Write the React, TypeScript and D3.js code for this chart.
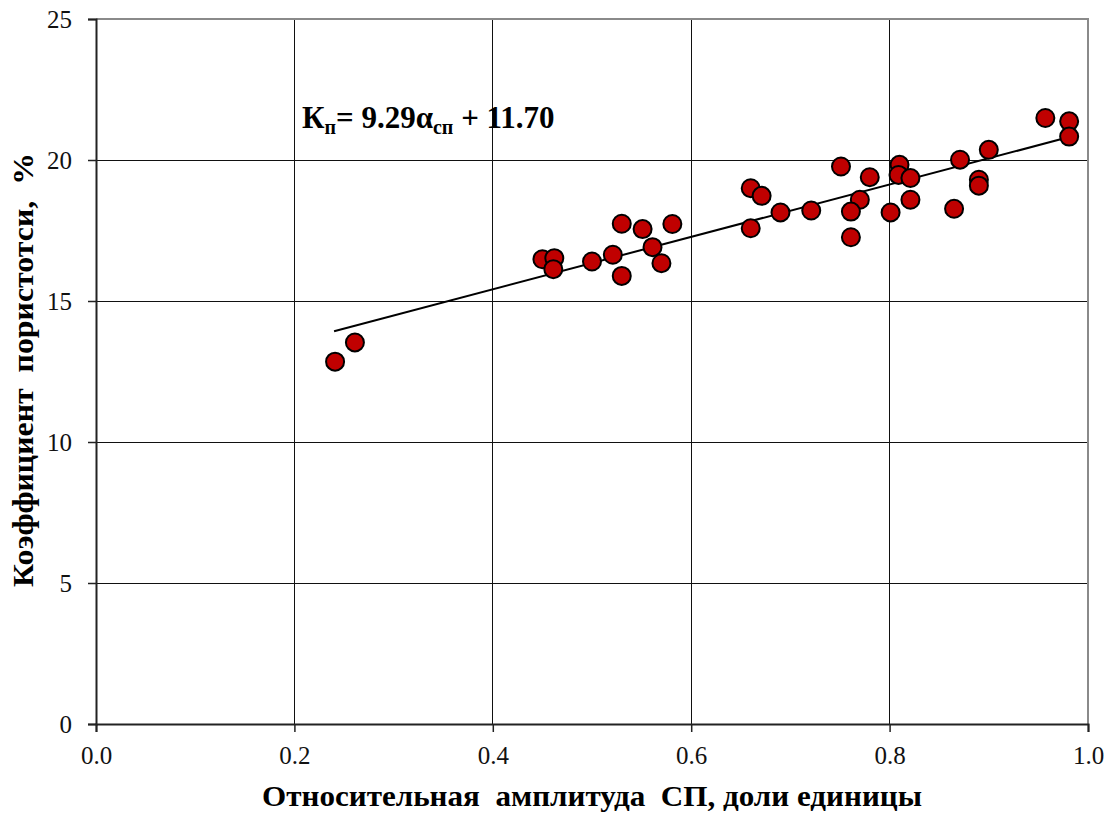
import React, { useRef, useEffect } from 'react';
import * as d3 from 'd3';

const xValues = [
  0.241, 0.261,
  0.450, 0.462, 0.461, 0.500, 0.521, 0.530, 0.551, 0.530, 0.561, 0.570, 0.581,
  0.660, 0.671, 0.660, 0.690, 0.721, 0.751, 0.780, 0.770, 0.761, 0.761, 0.801,
  0.810, 0.809, 0.821, 0.821, 0.865, 0.871, 0.890, 0.890, 0.900, 0.957, 0.981, 0.981,
];
const yValues = [
  12.85, 13.53,
  16.48, 16.52, 16.13, 16.40, 16.64, 17.74, 17.55, 15.89, 16.91, 16.34, 17.73,
  19.00, 18.73, 17.58, 18.14, 18.21, 19.77, 19.39, 18.59, 18.17, 17.26, 18.14,
  19.83, 19.47, 19.36, 18.59, 18.27, 20.01, 19.30, 19.09, 20.36, 21.49, 21.37, 20.83,
];
const xTicks = [0, 0.2, 0.4, 0.6, 0.8, 1.0];
const yTicks = [0, 5, 10, 15, 20, 25];
const slope = 9.29;
const intercept = 11.7;
const fitRange = [0.24, 0.98];

const W = 1115, H = 815;
const margin = { top: 19, right: 27, bottom: 91, left: 96 };
const FONT = '"Liberation Serif", "Times New Roman", serif';

const App = () => {
  const ref = useRef(null);

  useEffect(() => {
    const svg = d3.select(ref.current);
    svg.selectAll('*').remove();

    const x = d3.scaleLinear().domain([0, 1]).range([margin.left, W - margin.right]);
    const y = d3.scaleLinear().domain([0, 25]).range([H - margin.bottom, margin.top]);

    svg.append('rect').attr('width', W).attr('height', H).attr('fill', '#fff');

    // grid
    svg.append('g').attr('shape-rendering', 'crispEdges')
      .selectAll('line').data(xTicks.slice(1, -1)).join('line')
      .attr('x1', d => x(d)).attr('x2', d => x(d))
      .attr('y1', y(0)).attr('y2', y(25))
      .attr('stroke', '#111').attr('stroke-width', 1);
    svg.append('g').attr('shape-rendering', 'crispEdges')
      .selectAll('line').data(yTicks.slice(1, -1)).join('line')
      .attr('x1', x(0)).attr('x2', x(1))
      .attr('y1', d => y(d)).attr('y2', d => y(d))
      .attr('stroke', '#111').attr('stroke-width', 1);

    // top / right frame
    svg.append('path')
      .attr('d', `M${x(0)},${y(25)}H${x(1)}V${y(0)}`)
      .attr('fill', 'none').attr('stroke', '#8a8a8a').attr('stroke-width', 2);

    // axes
    const xAxis = svg.append('g').attr('transform', `translate(0,${y(0)})`)
      .call(d3.axisBottom(x).tickValues(xTicks).tickSize(8).tickFormat(d3.format('.1f')));
    const yAxis = svg.append('g').attr('transform', `translate(${x(0)},0)`)
      .call(d3.axisLeft(y).tickValues(yTicks).tickSize(8).tickPadding(16));
    [xAxis, yAxis].forEach(g => {
      g.select('.domain').attr('stroke', '#222').attr('stroke-width', 2);
      g.selectAll('.tick line').attr('stroke', '#222').attr('stroke-width', 1.5);
      g.selectAll('text').style('font-family', FONT).style('font-size', '25px').attr('fill', '#111');
    });
    yAxis.selectAll('text').attr('dy', '0.34em');
    xAxis.selectAll('text').attr('y', 40).attr('dy', 0);

    // regression line
    const line = d3.line().x(d => x(d)).y(d => y(slope * d + intercept));
    svg.append('path').datum(fitRange).attr('d', line)
      .attr('fill', 'none').attr('stroke', '#000').attr('stroke-width', 2);

    // points
    svg.append('g').selectAll('circle').data(xValues.map((v, i) => [v, yValues[i]])).join('circle')
      .attr('cx', d => x(d[0])).attr('cy', d => y(d[1])).attr('r', 9)
      .attr('fill', '#C00000').attr('stroke', '#000').attr('stroke-width', 2);

    // equation
    const eq = svg.append('text').attr('x', 302).attr('y', 128)
      .style('font-family', FONT).style('font-weight', 'bold').style('font-size', '31px').attr('fill', '#000');
    eq.append('tspan').text('К');
    eq.append('tspan').style('font-size', '20px').attr('dy', 6).text('п');
    eq.append('tspan').attr('dy', -6).text('= 9.29α');
    eq.append('tspan').style('font-size', '20px').attr('dy', 6).text('сп');
    eq.append('tspan').attr('dy', -6).style('white-space', 'pre').text(' + 11.70');

    // axis titles
    svg.append('text').attr('x', 592).attr('y', 806)
      .attr('text-anchor', 'middle')
      .style('font-family', FONT).style('font-weight', 'bold').style('font-size', '29px').style('white-space', 'pre')
      .attr('textLength', 660).attr('lengthAdjust', 'spacingAndGlyphs')
      .text('Относительная  амплитуда  СП, доли единицы');
    svg.append('text')
      .attr('transform', `translate(33,370) rotate(-90)`)
      .attr('text-anchor', 'middle')
      .style('font-family', FONT).style('font-weight', 'bold').style('font-size', '30px').style('white-space', 'pre')
      .attr('textLength', 434).attr('lengthAdjust', 'spacingAndGlyphs')
      .text('Коэффициент  пористотси,  %');
  }, []);

  return (
    <div style={{ position: 'absolute', left: 0, top: 0 }}>
      <svg ref={ref} width={W} height={H} style={{ display: 'block' }} />
    </div>
  );
};

export default App;
